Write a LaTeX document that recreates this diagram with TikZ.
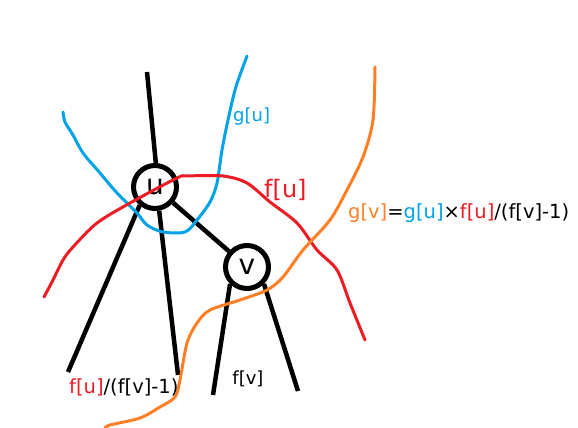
\documentclass[tikz,border=0pt]{standalone}
\usepackage{fontspec}
\setmainfont{DejaVu Sans}
\usetikzlibrary{positioning}
\definecolor{pblue}{RGB}{0,162,232}
\definecolor{pred}{RGB}{237,28,36}
\definecolor{porange}{RGB}{255,127,39}

\begin{document}
\begin{tikzpicture}[x=1pt, y=-1pt,
    vx/.style={%
      circle, draw=black, line width=5pt, fill=none,
      minimum size=43pt, inner sep=0pt,
      font=\fontsize{28}{28}\selectfont
    },
    tree/.style={draw=black, line width=4.5pt},
    cut/.style={line width=3pt, line cap=round, line join=round},
    lbl/.style={inner sep=0pt, font=\fontsize{18}{18}\selectfont},
    big/.style={font=\fontsize{19.5}{19.5}\selectfont}
]
    \useasboundingbox (0,0) rectangle (578,428);

    \node[vx] (u) at (155,187) {u};
    \node[vx] (v) at (247,267) {v};
    \coordinate (up) at (147,72);
    \coordinate (ul) at (68,372);
    \coordinate (ur) at (178,375);
    \coordinate (vl) at (213,395);
    \coordinate (vr) at (298,391);

    \path[tree] (up) edge (u.88)
          (u.230) edge (ul)
          (u.280) edge (ur)
          (u) edge (v)
          (v.225) edge (vl)
          (v.315) edge (vr)
    ;

    % hand drawn cuts
    \draw[cut, pblue] plot[smooth] coordinates {(247,56) (240,75) (235,90)
      (228,120) (222,150) (217,183) (210,202) (197,220) (185,232) (163,232)
      (147,225) (137,213) (117,193) (100,173) (83,153) (73,135) (65,122) (63,112)};
    \draw[cut, pred] plot[smooth] coordinates {(44,297) (53,280) (63,260)
      (73,247) (97,223) (130,203) (177,178) (187,176) (223,176) (247,183)
      (270,202) (297,223) (317,250) (337,270) (350,303) (365,340)};
    \draw[cut, porange] plot[smooth] coordinates {(375,67) (373,120) (363,157)
      (347,190) (330,220) (303,250) (283,277) (267,290) (240,300) (210,310)
      (197,323) (187,343) (180,380) (175,397) (160,407) (140,418) (110,425) (105,428)};

    \node[lbl, text=pblue, anchor=west] (gu) at (233,117) {g[u]};
    \node[lbl, text=pred, anchor=west, font=\fontsize{24}{24}\selectfont] (fu) at (264,190) {f[u]};
    \node[lbl, big, anchor=west] (rule) at (348,213)
      {\textcolor{porange}{g[v]}=\textcolor{pblue}{g[u]}×\textcolor{pred}{f[u]}/(f[v]-1)};
    \node[lbl, big, anchor=west] (share) at (69,387) {\textcolor{pred}{f[u]}/(f[v]-1)};
    \node[lbl] (fv) at (248,379) {f[v]};

\end{tikzpicture}
\end{document}
